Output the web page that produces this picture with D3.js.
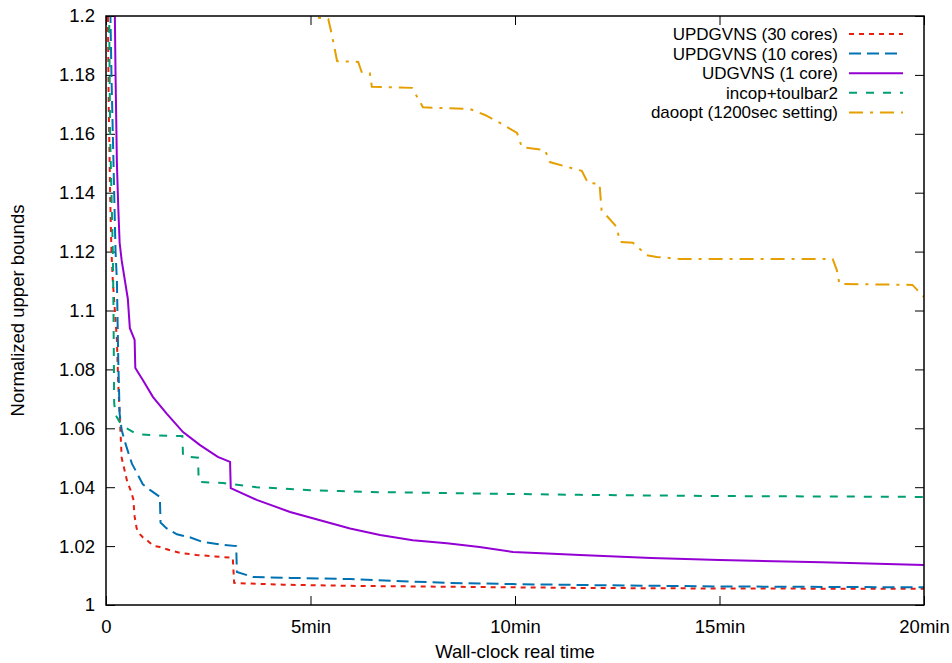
<!DOCTYPE html>
<html>
<head>
<meta charset="utf-8">
<script src="https://cdn.jsdelivr.net/npm/d3@7/dist/d3.min.js"></script>
<style>
  body { margin: 0; background: #fff; }
  text { font-family: "Liberation Sans", Arial, sans-serif; font-size: 18.5px; fill: #000; }
</style>
</head>
<body>
<svg id="chart" width="952" height="663"></svg>
<script>
// series: [seconds, normalized upper bound]
const upd30 = [[2,1.22],[4,1.17],[6,1.14],[8,1.12],[10,1.11],[13,1.10],[16,1.09],[18,1.075],[20,1.065],[23,1.05],[27,1.046],[31,1.042],[36,1.039],[40,1.036],[42,1.03],[45,1.026],[50,1.024],[54,1.023],[60,1.022],[65,1.021],[72,1.020],[79,1.0197],[95,1.0185],[109,1.0177],[133,1.017],[160,1.0165],[186,1.016],[188,1.0075],[207,1.0073],[260,1.0069],[358,1.0065],[500,1.0062],[695,1.0058],[900,1.0056],[1200,1.0055]];
const upd10 = [[5,1.22],[8,1.18],[10,1.16],[12,1.14],[14,1.12],[16,1.11],[18,1.083],[20,1.065],[23,1.0594],[27,1.056],[31,1.053],[38,1.048],[45,1.045],[54,1.041],[65,1.039],[79,1.0367],[80,1.028],[89,1.026],[104,1.024],[123,1.023],[142,1.0214],[172,1.0204],[191,1.020],[192,1.0112],[216,1.0095],[270,1.0092],[358,1.0088],[500,1.0075],[597,1.0071],[695,1.0068],[900,1.0063],[1200,1.006]];
const udg1 = [[12,1.22],[14,1.18],[16,1.15],[18,1.135],[20,1.123],[23,1.117],[32,1.104],[35,1.094],[42,1.09],[43,1.0805],[54,1.0764],[69,1.0706],[89,1.065],[113,1.0587],[138,1.0543],[164,1.0503],[182,1.0486],[183,1.0397],[221,1.0357],[270,1.0316],[318,1.0285],[358,1.026],[402,1.0238],[450,1.022],[500,1.021],[548,1.0197],[597,1.018],[647,1.0175],[695,1.017],[800,1.016],[900,1.0153],[1050,1.0145],[1200,1.0136]];
const incop = [[4,1.22],[6,1.16],[8,1.14],[10,1.12],[11,1.10],[12,1.0686],[14,1.0645],[23,1.061],[45,1.058],[94,1.0574],[112,1.0574],[113,1.0506],[135,1.050],[136,1.0418],[172,1.0414],[221,1.040],[300,1.039],[343,1.0387],[377,1.0384],[500,1.038],[597,1.0377],[695,1.0374],[900,1.037],[1200,1.0367]];
const daoopt = [[290,1.215],[302,1.1997],[326,1.199],[331,1.194],[339,1.1847],[370,1.1844],[375,1.181],[387,1.1806],[390,1.176],[449,1.1756],[465,1.169],[534,1.1684],[556,1.1664],[578,1.1637],[603,1.1603],[610,1.1555],[644,1.1545],[651,1.1504],[698,1.1474],[707,1.1433],[724,1.143],[727,1.1341],[749,1.1284],[754,1.1233],[773,1.123],[793,1.1188],[808,1.1182],[842,1.1175],[1066,1.1175],[1072,1.1138],[1076,1.109],[1183,1.1087],[1200,1.1046]];

const seriesNames = ["UPDGVNS (30 cores)", "UPDGVNS (10 cores)", "UDGVNS (1 core)", "incop+toulbar2", "daoopt (1200sec setting)"];
const seriesData = [upd30, upd10, udg1, incop, daoopt];
const xTicks = [0, 300, 600, 900, 1200];
const xTickLabels = ["0", "5min", "10min", "15min", "20min"];
const yTicks = d3.range(0, 11).map(i => 1 + i * 0.02);

// styles
const colors = ["#e51e10", "#0072b2", "#9400d3", "#009e73", "#e69f00"];
const dashes = ["5,5", "12,6", null, "8,9", "14,7,3,7"];

const margin = {top: 16, right: 28, bottom: 58, left: 106};
const width = 952, height = 663;

const svg = d3.select("#chart");

const x = d3.scaleLinear().domain([0, 1200]).range([margin.left, width - margin.right]);
const y = d3.scaleLinear().domain([1, 1.2]).range([height - margin.bottom, margin.top]);

svg.append("defs").append("clipPath").attr("id", "clip")
  .append("rect")
  .attr("x", margin.left).attr("y", margin.top)
  .attr("width", x(1200) - x(0)).attr("height", y(1) - y(1.2));

// axes with inward ticks, mirrored
const fmtY = d => d3.format("~g")(+d.toFixed(2));
svg.append("g")
  .attr("transform", `translate(${margin.left},0)`)
  .call(d3.axisLeft(y).tickValues(yTicks).tickSize(-9).tickPadding(11).tickFormat(fmtY))
  .call(g => g.select(".domain").remove());
svg.append("g")
  .attr("transform", `translate(${width - margin.right},0)`)
  .call(d3.axisRight(y).tickValues(yTicks).tickSize(-9).tickFormat(""))
  .call(g => g.select(".domain").remove());
svg.append("g")
  .attr("transform", `translate(0,${height - margin.bottom})`)
  .call(d3.axisBottom(x).tickValues(xTicks).tickSize(-9).tickPadding(15).tickFormat((d, i) => xTickLabels[i]))
  .call(g => g.select(".domain").remove());
svg.append("g")
  .attr("transform", `translate(0,${margin.top})`)
  .call(d3.axisTop(x).tickValues(xTicks).tickSize(-9).tickFormat(""))
  .call(g => g.select(".domain").remove());

svg.selectAll(".tick line").attr("stroke", "#000").attr("stroke-width", 1);
svg.selectAll(".tick text").style("font-family", "Liberation Sans, Arial, sans-serif").style("font-size", "18.5px").attr("fill", "#000");

// data lines
const line = d3.line().x(d => x(d[0])).y(d => y(d[1]));
const plot = svg.append("g").attr("clip-path", "url(#clip)");
seriesData.forEach((s, i) => {
  plot.append("path")
    .datum(s)
    .attr("fill", "none")
    .attr("stroke", colors[i])
    .attr("stroke-width", 2)
    .attr("stroke-dasharray", dashes[i])
    .attr("d", line);
});

// border
svg.append("rect")
  .attr("x", margin.left).attr("y", margin.top)
  .attr("width", x(1200) - x(0)).attr("height", y(1) - y(1.2))
  .attr("fill", "none").attr("stroke", "#000").attr("stroke-width", 1.5);

// legend (slightly smaller text so rows don't collide)
const legend = svg.append("g");
seriesNames.forEach((name, i) => {
  const ly = 34 + i * 19.6;
  legend.append("text")
    .attr("x", 838).attr("y", ly).attr("dy", "0.35em")
    .attr("text-anchor", "end")
    .style("font-size", "17px")
    .text(name);
  legend.append("line")
    .attr("x1", 849).attr("x2", 903).attr("y1", ly).attr("y2", ly)
    .attr("stroke", colors[i]).attr("stroke-width", 2)
    .attr("stroke-dasharray", dashes[i]);
});

// axis titles
svg.append("text")
  .attr("x", (x(0) + x(1200)) / 2).attr("y", 658)
  .attr("text-anchor", "middle")
  .text("Wall-clock real time");
svg.append("text")
  .attr("transform", `translate(24,${(y(1) + y(1.2)) / 2}) rotate(-90)`)
  .attr("text-anchor", "middle")
  .text("Normalized upper bounds");
</script>
</body>
</html>
